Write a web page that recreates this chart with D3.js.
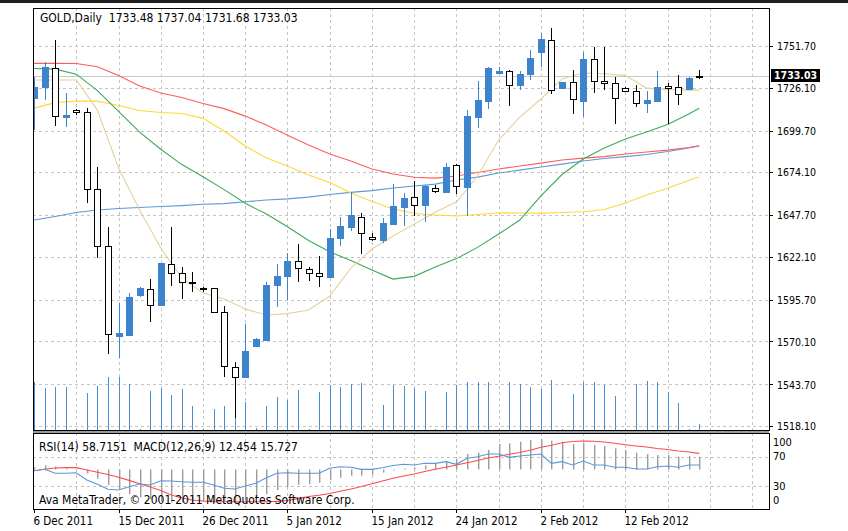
<!DOCTYPE html>
<html><head><meta charset="utf-8">
<script src="https://cdn.jsdelivr.net/npm/d3@7"></script>
<style>
body{margin:0;background:#fff;}
svg{display:block;font-family:"DejaVu Sans Condensed","DejaVu Sans",sans-serif;}
text{white-space:pre;}
</style></head><body>
<svg id="c" width="848" height="531"></svg>
<script>
// ---------------- data ----------------
const headerText = "GOLD,Daily  1733.48 1737.04 1731.68 1733.03";
const subText = "RSI(14) 58.7151  MACD(12,26,9) 12.454 15.727";
const copyText = "Ava MetaTrader, \u00A9 2001-2011 MetaQuotes Software Corp.";
const tickIndex = [0, 8, 16, 24, 32, 40, 48, 56];
const tickLabels = ["6 Dec 2011","15 Dec 2011","26 Dec 2011","5 Jan 2012","15 Jan 2012","24 Jan 2012","2 Feb 2012","12 Feb 2012"];
const priceTicks = [1751.70,1726.10,1699.70,1674.10,1647.70,1622.10,1595.70,1570.10,1543.70,1518.10];
const lastPrice = 1733.03;
const rsiLevels = [100, 70, 30, 0];

const open = [1719.7,1726.3,1738.3,1708.2,1712.3,1710.9,1663.8,1628.7,1573.6,1574.0,
 1598.6,1602.3,1592.3,1617.5,1611.9,1606.4,1603.1,1602.7,1588.4,1554.2,
 1548.4,1567.3,1570.9,1604.8,1610.3,1619.5,1614.4,1612.0,1609.9,1633.5,
 1640.6,1646.8,1634.4,1632.4,1642.3,1652.9,1659.1,1654.0,1664.6,1661.7,
 1678.3,1665.2,1708.2,1717.8,1734.9,1736.3,1727.7,1734.4,1747.8,1755.3,
 1725.7,1729.7,1718.0,1743.5,1730.3,1728.7,1726.0,1724.0,1716.8,1717.8,
 1727.1,1726.3,1725.0,1733.48];
const high = [1732.6,1741.6,1755.3,1722.6,1713.1,1713.4,1677.5,1640.6,1593.5,1599.7,
 1603.7,1608.3,1618.5,1640.6,1616.0,1612.9,1603.3,1603.0,1591.9,1557.6,
 1580.6,1572.0,1606.8,1617.5,1624.2,1630.0,1616.0,1622.6,1639.0,1646.4,
 1662.1,1648.8,1636.7,1646.1,1666.7,1661.5,1668.7,1666.0,1666.0,1679.9,
 1678.9,1712.3,1730.1,1738.9,1738.6,1736.9,1736.5,1749.2,1759.8,1762.5,
 1729.7,1736.9,1748.2,1750.9,1751.3,1732.8,1726.3,1727.7,1724.2,1736.3,
 1729.1,1733.8,1732.5,1737.04];
const low = [1700.0,1718.5,1702.5,1701.7,1709.2,1655.3,1621.2,1562.4,1559.7,1573.5,
 1597.6,1582.2,1592.0,1604.1,1596.2,1600.6,1600.6,1588.0,1548.4,1523.0,
 1547.5,1566.5,1570.5,1591.4,1595.5,1606.8,1607.4,1603.7,1609.5,1628.7,
 1638.1,1623.6,1631.6,1630.4,1642.0,1641.0,1647.2,1643.7,1661.5,1661.1,
 1660.7,1647.2,1701.4,1712.8,1734.4,1714.8,1724.6,1730.7,1739.0,1722.2,
 1725.2,1709.9,1708.2,1723.0,1724.6,1703.7,1723.8,1714.0,1710.7,1717.5,
 1703.7,1715.4,1724.8,1731.68];
const close = [1726.5,1738.6,1708.6,1709.2,1711.1,1663.6,1628.7,1574.6,1575.1,1597.6,
 1602.7,1592.3,1618.1,1611.9,1606.4,1605.8,1602.3,1588.4,1555.0,1548.4,
 1564.2,1571.4,1604.8,1610.3,1619.5,1615.0,1612.0,1610.3,1633.8,1641.0,
 1647.8,1636.9,1632.8,1643.1,1653.3,1658.4,1654.0,1665.6,1662.7,1677.5,
 1665.6,1708.6,1718.5,1737.9,1736.3,1727.7,1734.4,1744.1,1755.8,1724.6,
 1729.3,1718.9,1743.5,1730.3,1728.7,1719.5,1724.0,1716.8,1718.5,1726.3,
 1726.0,1722.2,1732.2,1733.03];
const volume = [47700,41700,43300,43300,800,37000,44300,52700,52700,46000,
 800,39300,42000,35300,40700,23700,800,21000,23700,43000,
 27700,2500,23700,32700,30000,40300,800,37700,45000,42700,
 46000,47000,800,25000,45000,44300,42000,39300,800,37700,
 45000,48300,48000,48000,800,48000,46000,43000,41000,50000,
 800,36000,48000,48000,45000,34000,800,46000,49000,48000,
 38000,27000,800,6000];

// moving averages, read every second bar
const maIndex = [0,2,4,6,8,10,12,14,16,18,20,22,24,26,28,30,32,34,36,38,40,42,44,46,48,50,52,54,56,58,60,62,63];
const maTan = [1730.8,1730.8,1730.8,1712.3,1676.7,1650.9,1627.5,1609.1,1599.8,1596.2,1590.0,1586.3,1587.2,1589.4,1598.0,1615.2,1626.9,1634.9,1642.2,1649.6,1655.8,1671.8,1693.9,1708.0,1719.1,1731.4,1735.2,1734.6,1733.6,1725.8,1724.9,1724.6,1724.6];
const maGreen = [1737.9,1737.5,1734.4,1724.3,1711.5,1698.8,1688.2,1678.8,1671.3,1663.4,1655.0,1648.4,1640.6,1632.1,1625.2,1619.8,1614.0,1608.4,1610.1,1615.9,1621.0,1627.9,1636.1,1644.7,1659.5,1672.7,1682.2,1689.0,1694.5,1698.8,1703.4,1709.9,1713.4];
const maRed = [1741.0,1741.0,1740.9,1738.9,1733.5,1727.1,1722.8,1720.0,1716.4,1713.2,1708.6,1703.1,1696.9,1690.8,1685.3,1681.0,1676.1,1673.0,1671.0,1670.5,1671.8,1673.9,1676.1,1677.9,1679.7,1681.6,1682.8,1683.7,1685.3,1686.5,1687.7,1689.3,1690.4];
const maBlue = [1644.7,1646.9,1649.3,1650.9,1651.8,1652.4,1653.0,1653.6,1654.4,1654.8,1656.0,1657.0,1657.7,1658.8,1660.4,1661.7,1662.8,1664.4,1665.6,1666.8,1669.3,1671.1,1673.6,1675.4,1677.3,1679.1,1681.0,1682.5,1683.7,1685.0,1686.8,1689.0,1690.2];
const maYellow = [1713.5,1716.9,1717.8,1717.8,1715.1,1712.0,1710.8,1710.2,1707.2,1699.4,1690.2,1682.8,1677.9,1672.4,1667.8,1661.3,1656.1,1651.5,1648.7,1647.8,1647.2,1648.1,1649.2,1649.0,1648.8,1649.3,1649.8,1651.2,1655.2,1660.1,1664.2,1669.0,1671.3];

const rsi = [51.1,52.9,47.6,47.6,48.4,38.7,32.9,26.3,25.3,29.7,
 33.3,32.0,37.7,37.3,36.4,35.6,35.6,32.0,27.6,26.7,
 30.7,34.3,41.7,47.6,48.4,47.6,47.6,47.6,54.3,56.4,
 55.6,52.9,52.9,55.1,58.0,59.6,58.7,60.9,60.9,63.1,
 59.6,67.6,69.7,73.3,73.3,68.9,70.7,72.0,73.3,60.9,
 63.1,58.7,64.0,58.7,58.7,55.6,55.6,53.3,53.3,56.4,
 57.3,55.6,58.7,58.7151];
const macdMain = [2,4,3,1,0.5,-4,-9,-15,-20,-24,
 -27,-29,-31,-32,-32,-32,-31,-31,-31,-31,
 -30,-28,-24,-20,-17,-15,-14,-13,-10,-8,
 -6,-6,-5,-3,-1,1,2,4,6,8,
 10,15.1,16.4,19.0,24.8,25.5,27.1,28.7,29.4,28.0,
 27.1,24.8,26.1,23.9,22.9,20.6,19.0,16.4,15.1,14.1,
 14.1,12.5,13.1,12.454];
const macdSignal = [-1.2,0.2,1.5,1.8,1.8,-0.5,-2.7,-4.9,-7.5,-10.6,
 -13.8,-17.0,-20.5,-24.8,-27.8,-29.7,-30.7,-31.3,-31.4,-31.4,
 -31.4,-31.4,-31.4,-31.0,-30.2,-28.4,-26.3,-25.1,-23.3,-21.1,
 -19.0,-16.6,-13.9,-11.2,-8.6,-6.3,-4.4,-1.9,0.2,2.2,
 4.4,6.5,8.8,11.2,12.9,14.8,16.6,18.7,21.6,23.6,
 26.1,27.3,27.8,27.5,26.8,25.5,24.1,22.9,21.9,20.4,
 19.5,18.0,17.0,15.727];

// ---------------- layout ----------------
const L = 33, R = 769, mainTop = 8, mainBot = 430, subTop = 433, subBot = 509;
const BLUE = "#3d84cc", GRID = "#c4c4c4";
const svg = d3.select("#c");

const x = d3.scaleLinear().domain([-0.1, 69.6]).range([L, R]);
const y = d3.scaleLinear().domain([1518.1, 1751.7]).range([426, 46]);
const yVol = d3.scaleLinear().domain([0, 100000]).range([mainBot, mainBot - 100]);
const yR = d3.scaleLinear().domain([0, 100]).range([509, 434]);
const yM = d3.scaleLinear().domain([-37.5, 37.5]).range([508, 431]);
const px = i => Math.round(x(i)) + 0.5;
const bars = d3.range(open.length);

svg.append("rect").attr("x",0).attr("y",0).attr("width",848).attr("height",3).attr("fill","#1e1e1e");

// ---------- grids ----------
const vGrid = d3.range(4, 70, 4);
const gm = svg.append("g").attr("shape-rendering","crispEdges").attr("stroke",GRID).attr("stroke-dasharray","3,3");
gm.selectAll(".vg").data(vGrid).join("line").attr("class","vg")
  .attr("x1",i=>px(i)).attr("x2",i=>px(i)).attr("y1",mainTop).attr("y2",mainBot);
gm.selectAll(".hg").data(priceTicks).join("line").attr("class","hg")
  .attr("x1",L).attr("x2",R).attr("y1",p=>Math.round(y(p))+0.5).attr("y2",p=>Math.round(y(p))+0.5);
gm.selectAll(".vs").data(vGrid).join("line").attr("class","vs")
  .attr("x1",i=>px(i)).attr("x2",i=>px(i)).attr("y1",subTop).attr("y2",subBot);
gm.selectAll(".hs").data([70,30]).join("line").attr("class","hs")
  .attr("x1",L).attr("x2",R).attr("y1",v=>Math.round(yR(v))+0.5).attr("y2",v=>Math.round(yR(v))+0.5);

// ---------- main panel ----------
const main = svg.append("g");
main.append("line").attr("x1",L).attr("x2",R)
  .attr("y1",Math.round(y(lastPrice))+0.5).attr("y2",Math.round(y(lastPrice))+0.5)
  .attr("stroke","#c8c8c8").attr("shape-rendering","crispEdges");
main.append("g").attr("shape-rendering","crispEdges").selectAll("line").data(bars).join("line")
  .attr("x1",px).attr("x2",px).attr("y1",yVol(0)).attr("y2",i=>yVol(volume[i]))
  .attr("stroke","#4a8fd4");
const maDefs = [[maBlue,"#5e9ad6"],[maYellow,"#ffd83a"],[maRed,"#ff5c5c"],[maGreen,"#3caa58"],[maTan,"#e3d29c"]];
const ln = vals => d3.line().x((d,k)=>x(maIndex[k])).y(d=>y(d))(vals);
main.selectAll(".ma").data(maDefs).join("path").attr("class","ma")
  .attr("d",d=>ln(d[0])).attr("fill","none").attr("stroke",d=>d[1]).attr("stroke-width",1.1);
const cg = main.append("g").attr("shape-rendering","crispEdges");
bars.forEach(i => {
  const bull = close[i] > open[i];
  const col = bull ? BLUE : "#000";
  const cx = px(i);
  cg.append("line").attr("x1",cx).attr("x2",cx).attr("y1",y(high[i])).attr("y2",y(low[i])).attr("stroke",col);
  const top = Math.round(y(Math.max(open[i],close[i])));
  const bot = Math.round(y(Math.min(open[i],close[i])));
  cg.append("rect").attr("x",Math.max(cx-3, L+1)).attr("y",top+0.5)
    .attr("width",cx-3 < L+1 ? cx+3-(L+1) : 6).attr("height",Math.max(1,bot-top))
    .attr("fill",bull?BLUE:"#fff").attr("stroke",col);
});

// ---------- sub panel: MACD histogram, signal, RSI ----------
const sub = svg.append("g");
sub.append("g").selectAll("rect").data(bars).join("rect")
  .attr("x",i=>Math.round(x(i)))
  .attr("y",i=>Math.min(yM(0), yM(macdMain[i])))
  .attr("width",1.4)
  .attr("height",i=>Math.abs(yM(macdMain[i]) - yM(0)))
  .attr("fill","#9c9c9c");
sub.append("path").attr("d",d3.line().x((d,i)=>x(i)).y(d=>yM(d))(macdSignal))
  .attr("fill","none").attr("stroke","#ff4b4b").attr("stroke-width",1.1);
sub.append("path").attr("d",d3.line().x((d,i)=>x(i)).y(d=>yR(d))(rsi))
  .attr("fill","none").attr("stroke","#5a98d8").attr("stroke-width",1.1);

// ---------- frames ----------
svg.append("rect").attr("x",L).attr("y",mainBot).attr("width",R-L).attr("height",subTop-mainBot).attr("fill","#9a9a9a");
const fr = svg.append("g").attr("fill","none").attr("stroke","#000").attr("shape-rendering","crispEdges");
fr.append("rect").attr("x",L+0.5).attr("y",mainTop+0.5).attr("width",R-L).attr("height",mainBot-mainTop).attr("fill","none");
fr.append("rect").attr("x",L+0.5).attr("y",subTop+0.5).attr("width",R-L).attr("height",subBot-subTop).attr("fill","none");

// ---------- texts ----------
const txt = svg.append("g").attr("fill","#000");
txt.append("text").attr("x",40).attr("y",18).attr("dy","0.35em").attr("font-size",12).text(headerText);
txt.append("text").attr("x",39).attr("y",447).attr("dy","0.35em").attr("font-size",12).text(subText);
txt.append("text").attr("x",39).attr("y",500).attr("dy","0.35em").attr("font-size",12).text(copyText);

// price axis
const pa = svg.append("g");
pa.selectAll("line").data(priceTicks).join("line").attr("shape-rendering","crispEdges")
  .attr("x1",R).attr("x2",R+4).attr("y1",p=>Math.round(y(p))+0.5).attr("y2",p=>Math.round(y(p))+0.5).attr("stroke","#000");
pa.selectAll("text").data(priceTicks).join("text")
  .attr("x",R+8).attr("y",p=>y(p)+0.5).attr("dy","0.35em").attr("font-size",10.5).text(p=>p.toFixed(2));
const lp = svg.append("g");
lp.append("rect").attr("x",R+2).attr("y",Math.round(y(lastPrice))-7).attr("width",49).attr("height",13).attr("fill","#000");
lp.append("text").attr("x",R+5).attr("y",y(lastPrice)-1).attr("dy","0.35em").attr("font-size",10.5)
  .attr("fill","#fff").attr("font-weight","bold").text(lastPrice.toFixed(2));

// rsi axis labels
svg.append("g").selectAll("text").data(rsiLevels).join("text")
  .attr("x",R+4).attr("y",v=>Math.min(Math.max(yR(v),442.5),500.5)).attr("dy","0.35em").attr("font-size",11).text(v=>v);

// date axis
const da = svg.append("g");
da.selectAll("line").data(tickIndex).join("line").attr("shape-rendering","crispEdges")
  .attr("x1",px).attr("x2",px).attr("y1",subBot).attr("y2",subBot+4).attr("stroke","#000");
da.selectAll("text").data(tickIndex).join("text")
  .attr("x",i=>px(i)-1).attr("y",521).attr("dy","0.35em").attr("font-size",11.5).text((d,k)=>tickLabels[k]);
</script></body></html>
